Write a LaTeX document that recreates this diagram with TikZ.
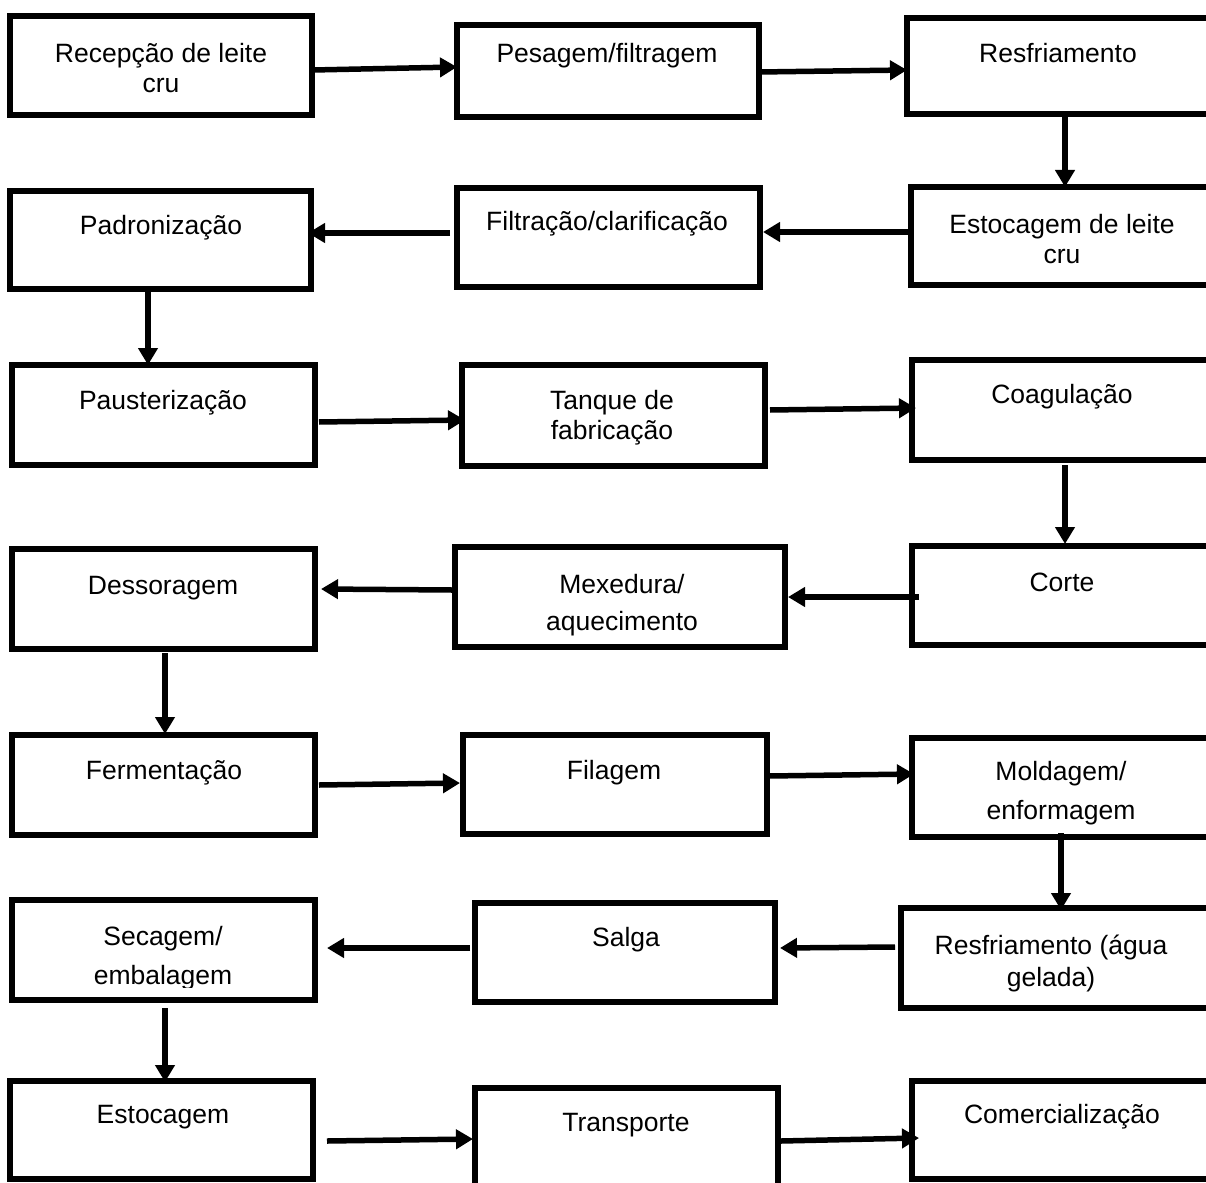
\documentclass[tikz,border=0pt]{standalone}
\usepackage{fontspec}
\setmainfont{Liberation Sans}
\usetikzlibrary{arrows.meta,calc}

\begin{document}
\begin{tikzpicture}[x=1pt,y=-1pt,
  box/.style={draw=black,line width=6.5pt,rectangle,inner sep=0pt,outer sep=0pt,
              minimum width=#1},
  lbl/.style={align=center,inner sep=0pt,font=\fontsize{26.5}{30}\selectfont},
  arr/.style={line width=5.5pt,-{Triangle[length=17pt,width=19pt]}}]

\useasboundingbox (0,0) rectangle (1206,1182);
\clip (0,0) rectangle (1206,1182);

% ---- labels ----
\node[lbl] (ta) at (161,68.5) {Recepção de leite\\cru};
\node[lbl] (tb) at (607,56)   {Pesagem/filtragem};
\node[lbl] (tc) at (1058,53)  {Resfriamento};
\node[lbl] (td) at (1062,239) {Estocagem de leite\\cru};
\node[lbl] (te) at (607,224)  {Filtração/clarificação};
\node[lbl] (tf) at (161,228)  {Padronização};
\node[lbl] (tg) at (163,403)  {Pausterização};
\node[lbl] (th) at (612,418)  {Tanque de\\fabricação};
\node[lbl] (ti) at (1062,397) {Coagulação};
\node[lbl] (tj) at (1062,582) {Corte};
\begin{scope}
  \clip (0,0) rectangle (1206,639);
  \node[lbl,font=\fontsize{26.5}{37}\selectfont] (tk) at (622,605) {Mexedura/\\aquecimento};
\end{scope}
\node[lbl] (tl) at (163,588)  {Dessoragem};
\node[lbl] (tm) at (164,773)  {Fermentação};
\node[lbl] (tn) at (614,773)  {Filagem};
\begin{scope}
  \clip (0,0) rectangle (1206,824);
  \node[lbl,font=\fontsize{26.5}{39}\selectfont] (to) at (1061,793) {Moldagem/\\enformagem};
\end{scope}
\node[lbl,font=\fontsize{26.5}{32}\selectfont] (tp) at (1051,963) {Resfriamento (água\\gelada)};
\node[lbl] (tq) at (626,940)  {Salga};
\begin{scope}
  \clip (0,0) rectangle (1206,987);
  \node[lbl,font=\fontsize{26.5}{39}\selectfont] (tr) at (163,958) {Secagem/\\embalagem};
\end{scope}
\node[lbl] (ts) at (163,1117) {Estocagem};
\node[lbl] (tt) at (626,1125) {Transporte};
\node[lbl] (tu) at (1062,1117) {Comercialização};

% ---- process boxes ----
\node[box=302pt,minimum height=99pt]  (a) at (161,65.5)   {};
\node[box=302pt,minimum height=92pt]  (b) at (608,71)     {};
\node[box=308pt,minimum height=96pt]  (c) at (1061,66)    {};
\node[box=304pt,minimum height=98pt]  (d) at (1063,236)   {};
\node[box=303pt,minimum height=99pt]  (e) at (608.5,237.5){};
\node[box=301pt,minimum height=98pt]  (f) at (160.5,240)  {};
\node[box=303pt,minimum height=100pt] (g) at (163.5,415)  {};
\node[box=303pt,minimum height=101pt] (h) at (613.5,415.5){};
\node[box=303pt,minimum height=100pt] (i) at (1063.5,410) {};
\node[box=303pt,minimum height=99pt]  (j) at (1063.5,595.5){};
\node[box=330pt,minimum height=100pt] (k) at (620,597)    {};
\node[box=303pt,minimum height=100pt] (l) at (163.5,599)  {};
\node[box=303pt,minimum height=100pt] (m) at (163.5,785)  {};
\node[box=304pt,minimum height=99pt]  (n) at (615,784.5)  {};
\node[box=303pt,minimum height=99pt]  (o) at (1063.5,787.5){};
\node[box=314pt,minimum height=100pt] (p) at (1058,958)   {};
\node[box=300pt,minimum height=99pt]  (q) at (625,952.5)  {};
\node[box=303pt,minimum height=100pt] (r) at (163.5,950)  {};
\node[box=303pt,minimum height=98pt]  (s) at (161.5,1130) {};
\node[box=303pt,minimum height=107pt] (t) at (626.5,1141.5){};
\node[box=303pt,minimum height=98pt]  (u) at (1063.5,1130){};

% ---- flow ----
\draw[arr] ($(a.east)+(1,4.5)$)    -- ($(b.west)+(0,-4)$);
\draw[arr] ($(b.east)+(0,1)$)      -- ($(c.west)+(0,4)$);
\draw[arr] ($(c.south)+(4,0)$)     -- ($(d.north)+(2,0)$);
\draw[arr] ($(d.west)+(0,-4)$)     -- ($(e.east)+(3,-5.5)$);
\draw[arr] ($(e.west)+(-7,-4.5)$)  -- ($(f.east)+(-3,-7)$);
\draw[arr] ($(f.south)+(-12.5,0)$) -- ($(g.north)+(-15.5,0)$);
\draw[arr] ($(g.east)+(4,7)$)      -- ($(h.west)+(3,4.5)$);
\draw[arr] ($(h.east)+(5,-5.5)$)   -- ($(i.west)+(4,-2)$);
\draw[arr] ($(i.south)+(1.5,5)$)   -- ($(j.north)+(1.5,-2)$);
\draw[arr] ($(j.west)+(7,1.5)$)    -- ($(k.east)+(3,0)$);
\draw[arr] ($(k.west)+(-3,-7)$)    -- ($(l.east)+(6,-10)$);
\draw[arr] ($(l.south)+(1.5,4)$)   -- ($(m.north)+(1.5,-1)$);
\draw[arr] ($(m.east)+(4,0)$)      -- ($(n.west)+(-3,-1.5)$);
\draw[arr] ($(n.east)+(2,-8.5)$)   -- ($(o.west)+(2,-13.5)$);
\draw[arr] ($(o.south)+(-2.5,-4)$) -- ($(p.north)+(3,2)$);
\draw[arr] ($(p.west)+(-6,-11)$)   -- ($(q.east)+(5,-4.5)$);
\draw[arr] ($(q.west)+(-5,-4.5)$)  -- ($(r.east)+(12,-2)$);
\draw[arr] ($(r.south)+(1.5,8)$)   -- ($(s.north)+(3.5,1)$);
\draw[arr] ($(s.east)+(14,11)$)    -- ($(t.west)+(-2,-2.5)$);
\draw[arr] ($(t.east)+(3,-0.5)$)   -- ($(u.west)+(7,8)$);
\end{tikzpicture}
\end{document}
